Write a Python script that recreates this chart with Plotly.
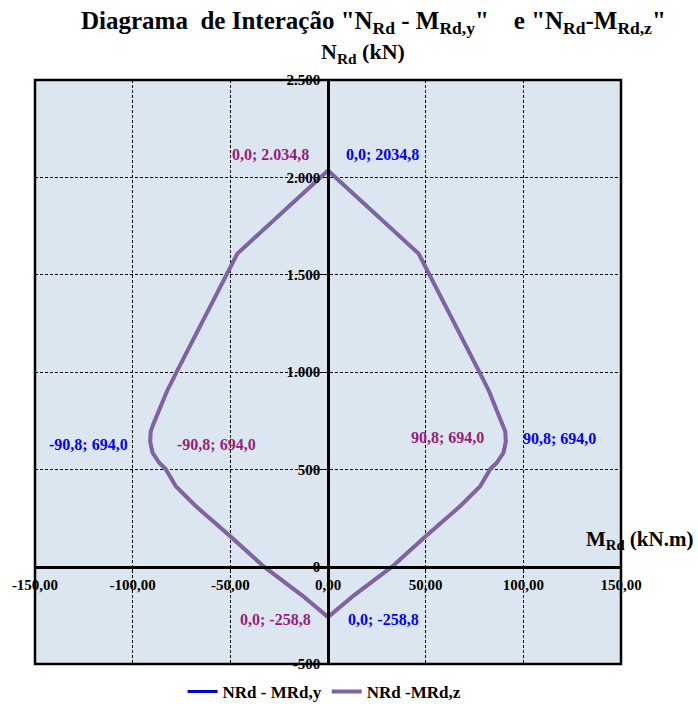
import plotly.graph_objects as go

# Interaction envelope (M_Rd in kN.m, N_Rd in kN), traced clockwise from the top
m_rd = [0.0, 46.4, 78.0, 82.5, 86.5, 89.5, 90.8, 91.0, 89.8, 86.5, 83.0, 78.0, 67.7, 50.0, 32.8, 13.3,
        0.0, -13.3, -32.8, -50.0, -67.7, -78.0, -83.0, -86.5, -89.8, -91.0, -90.8, -89.5, -86.5, -82.5,
        -78.0, -46.4, 0.0]
n_rd = [2034.8, 1608, 990, 900, 800, 730, 694.0, 640, 585, 535, 500, 414, 311, 156, 0, -147,
        -258.8, -147, 0, 156, 311, 414, 500, 535, 585, 640, 694.0, 730, 800, 900,
        990, 1608, 2034.8]

# Labelled key points
key_m = [0.0, 90.8, -90.8, 0.0]
key_n = [2034.8, 694.0, 694.0, -258.8]

x_ticks = [-150, -100, -50, 0, 50, 100, 150]
x_ticktext = ["-150,00", "-100,00", "-50,00", "0,00", "50,00", "100,00", "150,00"]
y_ticks = [-500, 0, 500, 1000, 1500, 2000, 2500]
y_ticktext = ["-500", "0", "500", "1.000", "1.500", "2.000", "2.500"]

series_names = ["NRd - MRd,y", "NRd -MRd,z"]
series_colors = ["#0000CC", "#8064A2"]
label_colors = ["#0000FF", "#961E78"]

SERIF = "Liberation Serif"


def fmt(v, thousands):
    s = f"{abs(v):,.1f}"
    s = s.replace(",", "X").replace(".", ",")
    s = s.replace("X", "." if thousands else "")
    return ("-" if v < 0 else "") + s


fig = go.Figure()
fig.add_trace(go.Scatter(x=m_rd, y=n_rd, mode="lines", name=series_names[0],
                         line=dict(color=series_colors[0], width=3)))
fig.add_trace(go.Scatter(x=m_rd, y=n_rd, mode="lines", name=series_names[1],
                         line=dict(color=series_colors[1], width=4)))

# label offsets (pixels) for each key point: (y-series, z-series)
offsets = [
    ((16, 16, "left"), (-17, 16, "right")),
    ((16, -7, "left"), (-19, -6, "right")),
    ((-21, -13, "right"), (24, -13, "left")),
    ((18, -2, "left"), (-15, -2, "right")),
]
annotations = []
for i, (mx, ny) in enumerate(zip(key_m, key_n)):
    for s in range(2):
        dx, dy, anchor = offsets[i][s]
        txt = f"{fmt(mx, False)}; {fmt(ny, s == 1)}"
        annotations.append(dict(x=mx, y=ny, xref="x", yref="y", text=txt, showarrow=False,
                                xanchor=anchor, yanchor="middle", xshift=dx, yshift=dy,
                                font=dict(family=SERIF, size=16, color=label_colors[s], weight="bold")))

annotations.append(dict(
    x=0.577, y=1, xref="paper", yref="paper", yshift=58, showarrow=False,
    xanchor="center", yanchor="middle",
    text="Diagrama\u00a0\u00a0de Interação \"N<sub>Rd</sub> - M<sub>Rd,y</sub>\"\u00a0\u00a0\u00a0\u00a0e \"N<sub>Rd</sub>-M<sub>Rd,z</sub>\"",
    font=dict(family=SERIF, size=25, color="black", weight="bold")))
annotations.append(dict(
    x=0, y=1, xref="x", yref="paper", xanchor="left", yanchor="middle", xshift=-9, yshift=27,
    showarrow=False, text="N<sub>Rd</sub> (kN)",
    font=dict(family=SERIF, size=22, color="black", weight="bold")))
annotations.append(dict(
    x=150, y=0, xref="x", yref="y", xanchor="left", yanchor="middle", xshift=-37, yshift=27,
    showarrow=False, text="M<sub>Rd</sub> (kN.m)",
    font=dict(family=SERIF, size=21, color="black", weight="bold")))

y_min, y_max = -500, 2500
x_min, x_max = -150, 150

tick_font = dict(family=SERIF, size=15, color="black", weight="bold")
fig.update_layout(
    width=698, height=704,
    margin=dict(l=35, r=77, t=80, b=40, autoexpand=False),
    paper_bgcolor="white",
    plot_bgcolor="#DCE6F1",
    showlegend=True,
    legend=dict(orientation="h", x=0.465, xanchor="center", xref="container",
                y=0.017, yanchor="middle", yref="container",
                font=dict(family=SERIF, size=17, color="black", weight="bold"),
                bgcolor="rgba(0,0,0,0)"),
    xaxis=dict(range=[x_min, x_max], tickvals=x_ticks, ticktext=x_ticktext,
               anchor="free", position=(0 - y_min) / (y_max - y_min),
               showline=True, linecolor="black", linewidth=2.5,
               ticks="outside", ticklen=4, tickcolor="black",
               showgrid=True, gridcolor="black", gridwidth=1, griddash="3px,2px",
               zeroline=False, tickfont=tick_font, automargin=False),
    yaxis=dict(range=[y_min, y_max], tickvals=y_ticks, ticktext=y_ticktext,
               anchor="free", position=(0 - x_min) / (x_max - x_min),
               showline=True, linecolor="black", linewidth=2.5,
               ticks="outside", ticklen=4, tickcolor="black",
               showgrid=True, gridcolor="black", gridwidth=1, griddash="3px,2px",
               zeroline=False, tickfont=tick_font, automargin=False),
    annotations=annotations,
    shapes=[dict(type="rect", xref="paper", yref="paper", x0=0, x1=1, y0=0, y1=1,
                 line=dict(color="black", width=2.5), layer="above")],
)

fig.write_html("out.html")
